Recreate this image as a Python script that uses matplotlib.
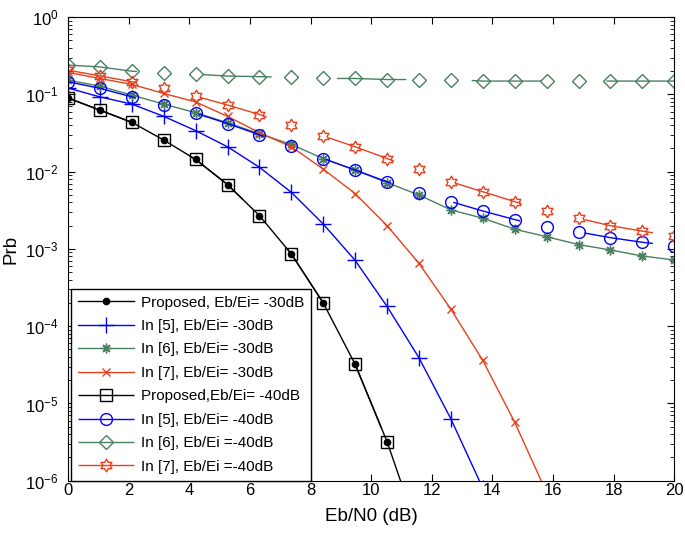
import numpy as np
import matplotlib
matplotlib.use("Agg")
import matplotlib.pyplot as plt
from matplotlib.path import Path

plt.rcParams['font.family'] = ['Liberation Sans', 'DejaVu Sans']
plt.rcParams['mathtext.fontset'] = 'custom'
plt.rcParams['mathtext.rm'] = 'Liberation Sans'
plt.rcParams['mathtext.it'] = 'Liberation Sans'

# Eb/N0 grid: 20 points from 0 to 20 dB
snr = np.linspace(0, 20, 20)

# Eb/Ei = -30 dB
prop_30 = [0.090, 0.0626, 0.0435, 0.0257, 0.0144, 0.0068, 0.0027, 8.6e-4, 2.0e-4,
           3.2e-5, 3.2e-6, 2.0e-7, 8e-9]
ref5_30 = [0.121, 0.093, 0.075, 0.052, 0.034, 0.021, 0.0114, 0.0054, 0.0021,
           7.1e-4, 1.8e-4, 3.9e-5, 6.3e-6, 8e-7, 6e-8]
ref6_30 = [0.153, 0.128, 0.098, 0.075, 0.058, 0.043, 0.031, 0.0225, 0.0148, 0.0105,
           0.0072, 0.0050, 0.0032, 0.0025, 0.0018, 0.00144, 0.00114, 9.7e-4, 8.1e-4, 7.2e-4]
ref7_30 = [0.193, 0.161, 0.135, 0.103, 0.080, 0.052, 0.032, 0.021, 0.0108, 0.0052,
           0.0020, 6.5e-4, 1.66e-4, 3.6e-5, 5.7e-6, 7e-7, 6e-8]

# Eb/Ei = -40 dB
prop_40 = prop_30
ref5_40 = [0.146, 0.120, 0.093, 0.073, 0.057, 0.042, 0.030, 0.0214, 0.0148, 0.0105,
           0.0074, 0.0053, 0.0041, 0.0031, 0.0024, 0.0019, 0.00166, 0.0014, 0.00122, 0.0011]
ref6_40 = [0.240, 0.227, 0.200, 0.190, 0.183, 0.173, 0.170, 0.166, 0.161, 0.161,
           0.156, 0.156, 0.156, 0.149, 0.149, 0.149, 0.149, 0.149, 0.149, 0.149]
ref7_40 = [0.206, 0.174, 0.146, 0.120, 0.095, 0.073, 0.055, 0.040, 0.029, 0.021,
           0.0148, 0.0107, 0.0074, 0.0055, 0.0041, 0.0031, 0.0025, 0.0020, 0.0017, 0.00147]

labels = ['Proposed, Eb/Ei= -30dB', 'In [5], Eb/Ei= -30dB', 'In [6], Eb/Ei= -30dB',
          'In [7], Eb/Ei= -30dB', 'Proposed,Eb/Ei= -40dB', 'In [5], Eb/Ei= -40dB',
          'In [6], Eb/Ei =-40dB', 'In [7], Eb/Ei =-40dB']

blue = '#0000ff'
green = '#4a8060'
red = '#e8401c'
hexagram = Path.unit_regular_star(6, 1 / np.sqrt(3))
gap = (0, (50, 47))

fig = plt.figure(figsize=(6.85, 5.34), dpi=100)
ax = fig.add_axes([0.0993, 0.0998, 0.885, 0.868])

def n(v):
    return snr[:len(v)]

ax.semilogy(n(prop_30), prop_30, '-', color='black', lw=1, marker='o', ms=4.5, label=labels[0])
ax.semilogy(n(ref5_30), ref5_30, '-', color=blue, lw=1, marker='+', ms=11, mew=1, label=labels[1])
ax.semilogy(n(ref6_30), ref6_30, '-', color=green, lw=1, marker=(8, 2, 0), ms=7, mew=1, label=labels[2])
ax.semilogy(n(ref7_30), ref7_30, '-', color=red, lw=1, marker='x', ms=5.5, mew=1, label=labels[3])
ax.semilogy(n(prop_40), prop_40, linestyle=gap, color='black', lw=1, marker='s', ms=8,
            mfc='none', mew=1, label=labels[4])
ax.semilogy(n(ref5_40), ref5_40, linestyle=gap, color=blue, lw=1, marker='o', ms=8.5,
            mfc='none', mew=1, label=labels[5])
ax.semilogy(n(ref6_40), ref6_40, linestyle=gap, color=green, lw=1, marker='D', ms=7.5,
            mfc='none', mew=1, label=labels[6])
ax.semilogy(n(ref7_40), ref7_40, linestyle=gap, color=red, lw=1, marker=hexagram, ms=9,
            mfc='none', mew=1, label=labels[7])

ax.set_xlim(0, 20)
ax.set_ylim(1e-6, 1)
ax.set_xticks(np.arange(0, 21, 2))
ax.tick_params(which='both', direction='in', top=True, right=True, labelsize=12)
ax.tick_params(which='major', length=5)
ax.tick_params(which='minor', length=3)
ax.tick_params(axis='x', pad=2)
ax.tick_params(axis='y', pad=7)
ax.set_xlabel('Eb/N0 (dB)', fontsize=13.5, labelpad=7)
ax.set_ylabel('Prb', fontsize=13.5)
ax.yaxis.set_label_coords(-0.08, 0.5)

leg = ax.legend(loc='lower left', bbox_to_anchor=(0.005, 0.0), borderaxespad=0, fontsize=11,
                numpoints=1, handlelength=3.7, handletextpad=0.4, borderpad=0.45,
                labelspacing=0.62, fancybox=False, edgecolor='black', framealpha=1)
leg.get_frame().set_linewidth(1)

fig.savefig('out.png', dpi=100)
